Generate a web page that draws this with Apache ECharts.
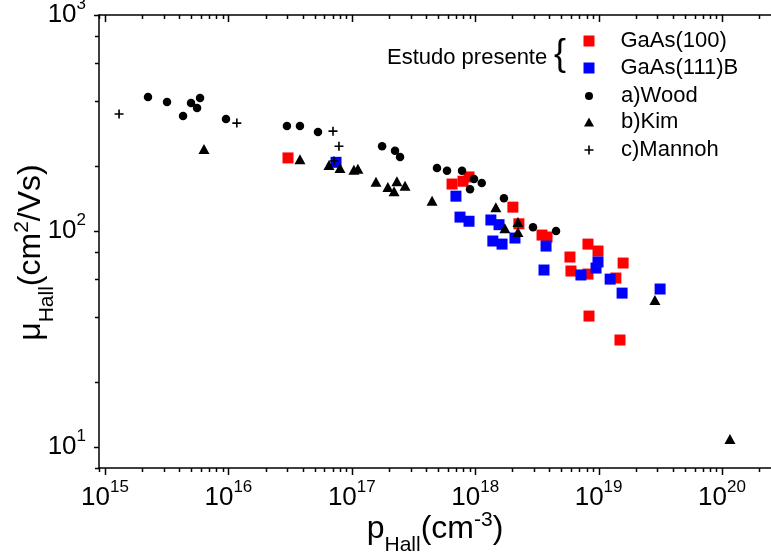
<!DOCTYPE html>
<html><head><meta charset="utf-8">
<script src="https://cdn.jsdelivr.net/npm/echarts@6/dist/echarts.min.js"></script>
<style>html,body{margin:0;padding:0;background:#fff}#c{width:771px;height:557px}</style>
</head><body><div id="c"></div>
<script>
// GaAs(100) - Estudo presente
const gaas100 = [
  [3.04e16,218],[6.49e17,165],[7.96e17,170],[8.91e17,178],[2.02e18,129],[2.26e18,108],
  [3.48e18,95.8],[3.82e18,93.8],[5.86e18,75.8],[8.20e18,87.0],[9.89e18,80.8],[1.58e19,71.1],
  [5.97e18,65.3],[8.20e18,63.2],[1.38e19,60.6],[8.36e18,40.4],[1.49e19,31.3]
];
// GaAs(111)B - Estudo presente
const gaas111B = [
  [7.45e16,208],[6.98e17,145],[7.53e17,116],[8.91e17,111],[1.34e18,112.5],[1.56e18,107],
  [1.39e18,89.9],[1.65e18,87.0],[2.10e18,92.8],[3.75e18,85.2],[3.61e18,66.0],[9.89e18,71.9],
  [9.53e18,67.4],[7.19e18,62.6],[1.24e19,59.9],[1.55e19,51.6],[3.15e19,53.9]
];
// a) Wood
const wood = [
  [2.23e15,417],[3.18e15,396],[4.29e15,341],[4.98e15,391],[5.89e15,413],[5.57e15,371],
  [9.56e15,330],[2.98e16,306],[3.80e16,306],[5.32e16,287],[1.76e17,247],[2.24e17,235],
  [2.46e17,220],[4.90e17,196],[5.91e17,190],[7.82e17,190],[9.78e17,174],[1.13e18,167],
  [9.08e17,156],[1.71e18,142],[2.94e18,104],[4.52e18,100]
];
// b) Kim
const kim = [
  [6.34e15,240],[3.80e16,215],[6.53e16,202],[8.02e16,196],[1.04e17,192],[1.12e17,194],
  [1.57e17,169],[1.96e17,160],[2.32e17,170],[2.70e17,162],[2.20e17,153],[4.47e17,138],
  [1.47e18,129],[1.74e18,103],[2.22e18,110],[2.22e18,99],[2.86e19,47.9],[1.16e20,10.9]
];
// c) Mannoh
const mannoh = [
  [1.30e15,348],[1.17e16,316],[7.04e16,290],[7.87e16,247],[7.17e16,211]
];

const X_MIN = 8.94e14, X_MAX = 2.495e20;
const Y_MIN = 8, Y_MAX = 1000;
const xMajorTicks = [1e15,1e16,1e17,1e18,1e19,1e20];
const xMinorMult = [2,3,4,5,6,7,8,9];
const xDecades = [1e14,1e15,1e16,1e17,1e18,1e19,1e20];
const yMajorTicks = [10,100,1000];
const yMinorMult = [2,4,6,8];
const yDecades = [1,10,100];

const FONT = '"Liberation Sans", Arial, Helvetica, sans-serif';

const xTickData = [];
xMajorTicks.forEach(v => xTickData.push([v, Y_MIN, 1]));
xDecades.forEach(d => xMinorMult.forEach(m => { const v = d*m; if (v >= X_MIN && v <= X_MAX) xTickData.push([v, Y_MIN, 0]); }));
const yTickData = [];
yMajorTicks.forEach(v => yTickData.push([X_MIN, v, 1]));
yDecades.forEach(d => yMinorMult.forEach(m => { const v = d*m; if (v >= Y_MIN && v <= Y_MAX) yTickData.push([X_MIN, v, 0]); }));

function powLabel(v) {
  const l = Math.log10(v), e = Math.round(l);
  if (Math.abs(l - e) > 1e-6) return '';
  return '{b|10}{s|' + e + '}';
}
const labelRich = {
  b: {fontSize: 26, fontFamily: FONT, color: '#000', lineHeight: 38},
  s: {fontSize: 17, fontFamily: FONT, color: '#000', lineHeight: 17, verticalAlign: 'top'}
};
const nameRich = {
  m: {fontSize: 32, fontFamily: FONT, color: '#000', lineHeight: 38},
  mEnd: {fontSize: 32, fontFamily: FONT, color: '#000', lineHeight: 38, padding: [0, 22, 0, 0]},
  sub: {fontSize: 21, fontFamily: FONT, color: '#000', lineHeight: 21, verticalAlign: 'bottom', padding: [0,0,-8,0]},
  sup: {fontSize: 21, fontFamily: FONT, color: '#000', lineHeight: 21, verticalAlign: 'top'}
};
const axisLineStyle = {color: '#000', width: 1.5};
const plusPath = 'path://M4.1,0H5.9V10H4.1Z M0,4.1H10V5.9H0Z';

function tickLine(x1,y1,x2,y2){
  return {type:'line', shape:{x1,y1,x2,y2}, style:{stroke:'#000', lineWidth:1.5}};
}

const chart = echarts.init(document.getElementById('c'), null, {renderer: 'canvas'});
const legendBase = {orient: 'vertical', padding: 0, selectedMode: false, itemGap: 0,
  textStyle: {fontSize: 22, fontFamily: FONT, color: '#000', lineHeight: 24}};
chart.setOption({
  animation: false,
  backgroundColor: '#fff',
  grid: {left: 99, right: 0, top: 15, bottom: 89, containLabel: false, outerBoundsMode: 'none'},
  xAxis: [{
    type: 'log', min: X_MIN, max: X_MAX, position: 'bottom',
    axisLine: {show: true, onZero: false, lineStyle: axisLineStyle},
    axisTick: {show: false}, splitLine: {show: false}, minorTick: {show: false},
    axisLabel: {formatter: powLabel, rich: labelRich, margin: 11, showMinLabel: true, showMaxLabel: true, hideOverlap: false},
    name: '{m|p}{sub|Hall}{m|(cm}{sup|-3}{m|)}', nameLocation: 'middle', nameGap: 42,
    nameMoveOverlap: false,
    nameTextStyle: {rich: nameRich}
  }, {
    type: 'log', min: X_MIN, max: X_MAX, position: 'top',
    axisLine: {show: true, onZero: false, lineStyle: axisLineStyle},
    axisTick: {show: false}, splitLine: {show: false}, axisLabel: {show: false}
  }],
  yAxis: [{
    type: 'log', min: Y_MIN, max: Y_MAX, position: 'left',
    axisLine: {show: true, onZero: false, lineStyle: axisLineStyle},
    axisTick: {show: false}, splitLine: {show: false}, minorTick: {show: false},
    axisLabel: {formatter: powLabel, rich: labelRich, margin: 13, showMinLabel: true, showMaxLabel: true, hideOverlap: false},
    name: '{m|μ}{sub|Hall}{m|(cm}{sup|2}{mEnd|/Vs)}', nameLocation: 'middle', nameGap: 49,
    nameMoveOverlap: false,
    nameTextStyle: {rich: nameRich}
  }],
  legend: [
    Object.assign({}, legendBase, {left: 583.5, top: 29, itemWidth: 11, itemHeight: 11,
      data: [{name: 'GaAs(100)', icon: 'rect'}],
      textStyle: Object.assign({}, legendBase.textStyle, {padding: [0,0,0,21]})}),
    Object.assign({}, legendBase, {left: 583.5, top: 56, itemWidth: 11, itemHeight: 11,
      data: [{name: 'GaAs(111)B', icon: 'rect'}],
      textStyle: Object.assign({}, legendBase.textStyle, {padding: [0,0,0,21]})}),
    Object.assign({}, legendBase, {left: 585, top: 84, itemWidth: 8, itemHeight: 8,
      data: [{name: 'a)Wood', icon: 'circle'}],
      textStyle: Object.assign({}, legendBase.textStyle, {padding: [0,0,0,23]})}),
    Object.assign({}, legendBase, {left: 584, top: 110, itemWidth: 10, itemHeight: 9,
      data: [{name: 'b)Kim', icon: 'triangle'}],
      textStyle: Object.assign({}, legendBase.textStyle, {padding: [0,0,0,22]})}),
    Object.assign({}, legendBase, {left: 584.5, top: 138, itemWidth: 9, itemHeight: 9,
      data: [{name: 'c)Mannoh', icon: plusPath}],
      textStyle: Object.assign({}, legendBase.textStyle, {padding: [0,0,0,22.5]})})
  ],
  graphic: [
    {type: 'text', left: 387, top: 47, style: {text: 'Estudo presente', fontSize: 22, fontFamily: FONT, fill: '#000'}},
    {type: 'text', left: 554, top: 37, style: {text: '{', fontSize: 36, fontFamily: FONT, fill: '#000'}}
  ],
  series: [
    {name: 'GaAs(100)', type: 'scatter', data: gaas100, symbol: 'rect', symbolSize: 11,
      itemStyle: {color: '#ff0000', opacity: 1}, emphasis: {disabled: true}},
    {name: 'GaAs(111)B', type: 'scatter', data: gaas111B, symbol: 'rect', symbolSize: 11,
      itemStyle: {color: '#0000ff', opacity: 1}, emphasis: {disabled: true}},
    {name: 'a)Wood', type: 'scatter', data: wood, symbol: 'circle', symbolSize: 8.5,
      itemStyle: {color: '#000', opacity: 1}, emphasis: {disabled: true}},
    {name: 'b)Kim', type: 'scatter', data: kim, symbol: 'triangle', symbolSize: [11, 10],
      itemStyle: {color: '#000', opacity: 1}, emphasis: {disabled: true}},
    {name: 'c)Mannoh', type: 'scatter', data: mannoh, symbol: plusPath, symbolSize: 9,
      itemStyle: {color: '#000', opacity: 1}, emphasis: {disabled: true}},
    {type: 'custom', silent: true, clip: false, data: xTickData, encode: {x: 0, y: 1},
      renderItem: function (params, api) {
        const v = api.value(0), major = api.value(2);
        const pb = api.coord([v, Y_MIN]), pt = api.coord([v, Y_MAX]);
        const L = major ? 7 : 4;
        const x = Math.round(pb[0]) + 0.5;
        return {type: 'group', children: [
          tickLine(x, pb[1], x, pb[1] + L),
          tickLine(x, pt[1], x, pt[1] + L)
        ]};
      }},
    {type: 'custom', silent: true, clip: false, data: yTickData, encode: {x: 0, y: 1},
      renderItem: function (params, api) {
        const v = api.value(1), major = api.value(2);
        const p = api.coord([X_MIN, v]);
        const L = major ? 5 : 4;
        const y = Math.round(p[1]) + 0.5;
        return tickLine(p[0] - L, y, p[0], y);
      }}
  ]
});
</script></body></html>
